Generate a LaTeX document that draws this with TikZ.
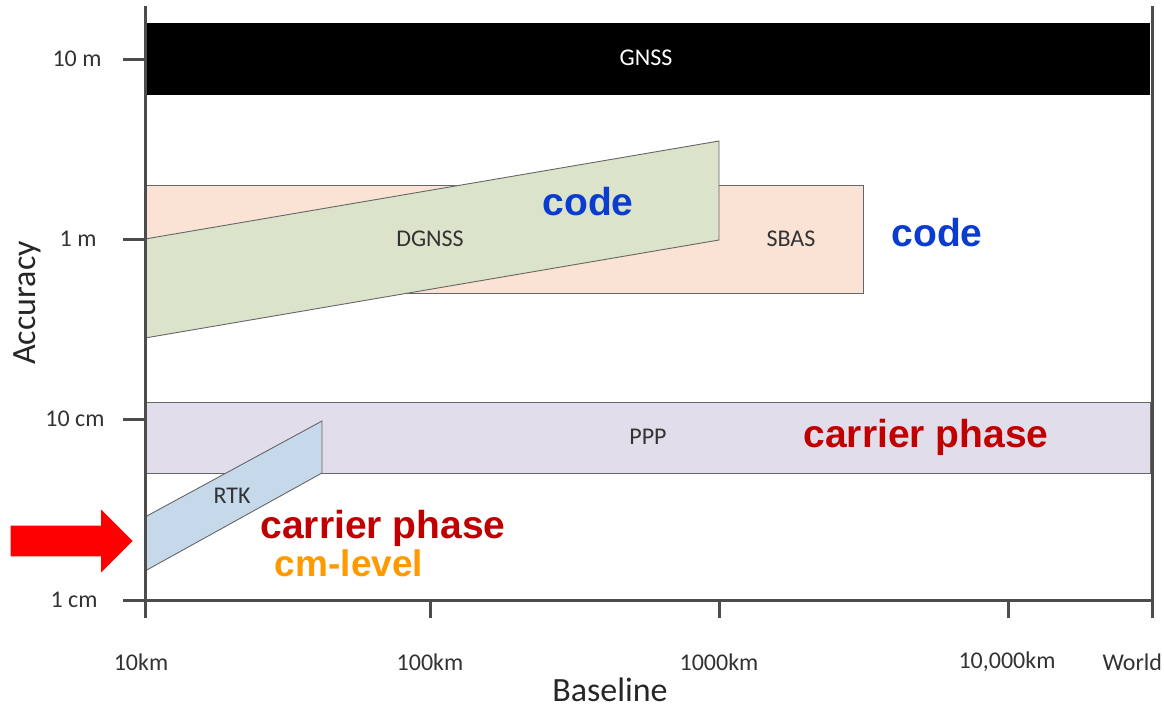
\documentclass[tikz,border=0pt]{standalone}
\usepackage{fontspec}
\setmainfont{Carlito}
\setsansfont{Liberation Sans}
\usetikzlibrary{shapes.arrows}

\definecolor{sbasfill}{HTML}{FAE2D5}
\definecolor{dgnssfill}{HTML}{DBE3CB}
\definecolor{pppfill}{HTML}{E2DDEB}
\definecolor{rtkfill}{HTML}{C5D9EA}
\definecolor{codeblue}{HTML}{0A3CCF}
\definecolor{phasered}{HTML}{C00000}
\definecolor{cmorange}{HTML}{FF9900}

\begin{document}
\begin{tikzpicture}[x=1pt,y=-1pt]
\tikzstyle{axis}=[line width=3pt, draw=black!70]
\tikzstyle{axtick}=[line width=3pt, draw=black!70]
\tikzstyle{band}=[draw=black!60, line width=0.9pt]
\tikzstyle{lbl}=[font=\fontsize{24}{28}\selectfont, text=black!80]
\tikzstyle{title}=[font=\fontsize{34}{38}\selectfont, text=black!85, inner sep=0pt]
\tikzstyle{note}=[font=\sffamily\bfseries\fontsize{39}{44}\selectfont]

\useasboundingbox (0,0) rectangle (1164,712);

  % bands, back to front
  \fill[black] (147,23) rectangle (1150,95);
  \path[band, fill=sbasfill] (145,185) rectangle (863,293);
  \path[band, fill=dgnssfill] (145,239) -- (719,141) -- (719,240) -- (145,338) -- cycle;
  \path[band, fill=pppfill] (145,402) rectangle (1150,473);
  \path[band, fill=rtkfill] (145,517) -- (322,421) -- (322,473) -- (145,571) -- cycle;

  % axes
  \draw[axis] (145,6) -- (145,618);
  \draw[axis] (1152,6) -- (1152,618);
  \draw[axis] (145,600) -- (1152,600);

  \foreach \y in {59,239,419,600} \draw[axtick] (123,\y) -- (145,\y);
  \foreach \x in {430,719,1008} \draw[axtick] (\x,600) -- (\x,618);

  % accuracy labels
  \node[lbl, anchor=east] (tenm)  at (105,59)  {10 m};
  \node[lbl, anchor=east] (onem)  at (100,239) {1 m};
  \node[lbl, anchor=east] (tencm) at (108,419) {10 cm};
  \node[lbl, anchor=east] (onecm) at (101,600) {1 cm};

  % baseline labels
  \node[lbl] (km10)    at (141,662)  {10km};
  \node[lbl] (km100)   at (430,662)  {100km};
  \node[lbl] (km1000)  at (719,662)  {1000km};
  \node[lbl] (km10000) at (1007,662) {10,000km};
  \node[lbl, anchor=west] (world) at (1099,662) {World};

  \node[title] (baseline) at (610,690) {Baseline};
  \node[title, rotate=90] (accuracy) at (27,303) {Accuracy};

  % band names
  \node[lbl, text=white] (gnss)  at (646,58)  {GNSS};
  \node[lbl] (dgnss) at (430,239) {DGNSS};
  \node[lbl] (sbas)  at (791,239) {SBAS};
  \node[lbl] (ppp)   at (648,437) {PPP};
  \node[lbl] (rtk)   at (232,496) {RTK};

  % observables
  \node[note, text=codeblue] (codea) at (588,202) {code};
  \node[note, text=codeblue] (codeb) at (937,233) {code};
  \node[note, text=phasered] (phasea) at (926,437) {carrier phase};
  \node[note, text=phasered] (phaseb) at (383,528) {carrier phase};
  \node[note, text=cmorange, font=\sffamily\bfseries\fontsize{37}{42}\selectfont]
        (cmlevel) at (349,563) {cm-level};

  % pointer to RTK
  \node[single arrow, fill=red, minimum height=122pt, minimum width=63pt,
        inner xsep=0pt, inner ysep=15pt, single arrow head extend=16pt] (pointer) at (64,541) {};

\end{tikzpicture}
\end{document}
